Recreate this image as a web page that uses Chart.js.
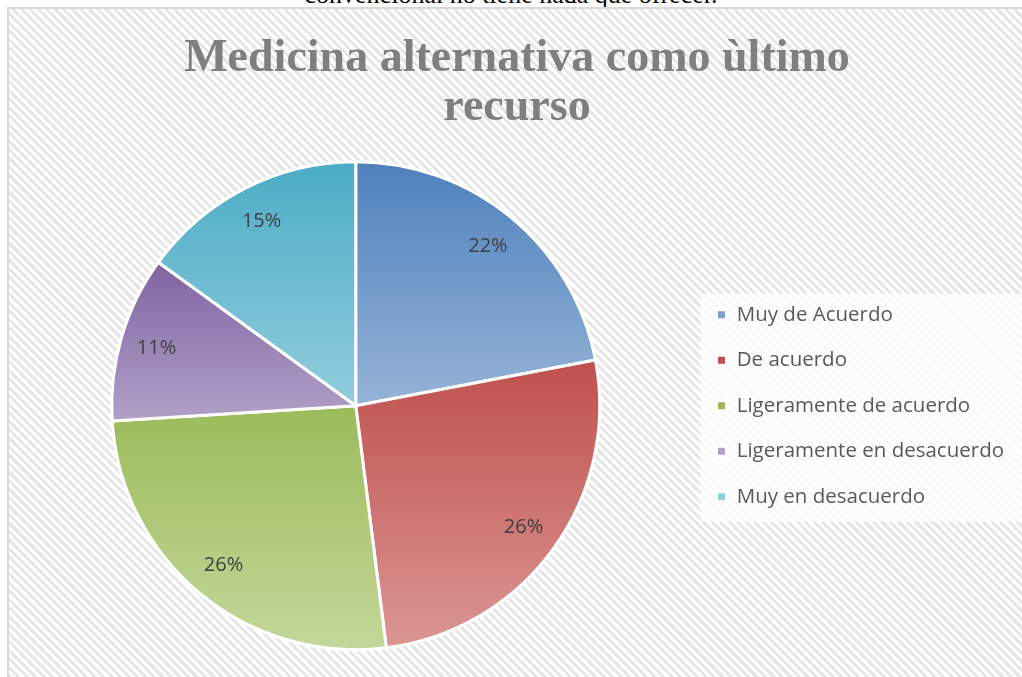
<!DOCTYPE html>
<html>
<head>
<meta charset="utf-8">
<script src="https://cdn.jsdelivr.net/npm/chart.js@4.4.1/dist/chart.umd.min.js"></script>
<style>
  html, body { margin: 0; padding: 0; background: #fff; overflow: hidden; }
  body { width: 1022px; height: 677px; position: relative; }
  #prev {
    position: absolute; left: 0; width: 1022px; top: -18px;
    text-align: center; font: 26px/26px "Liberation Serif", serif; color: #000;
    white-space: nowrap;
  }
  #frame {
    position: absolute; left: 7px; top: 7px; width: 1030px; height: 690px;
    border: 2px solid #d9d9d9;
    background: repeating-linear-gradient(45deg, #ffffff 0px, #ffffff 3px, #e6e6e6 3px, #e6e6e6 6px);
  }
  #wrap { position: absolute; left: 0; top: 0; width: 1022px; height: 677px; }
</style>
</head>
<body>
<div id="prev">convencional no tiene nada que ofrecer.</div>
<div id="frame"></div>
<div id="wrap"><canvas id="pieChart"></canvas></div>
<script>
const titulo = ['Medicina alternativa como ùltimo', 'recurso']
const categorias = ['Muy de Acuerdo', 'De acuerdo', 'Ligeramente de acuerdo', 'Ligeramente en desacuerdo', 'Muy en desacuerdo']
const porcentajes = [22, 26, 26, 11, 15]
const coloresArriba = ['#4f81bd', '#c0504d', '#9bbb59', '#8064a2', '#4bacc6']
const coloresAbajo = ['#95b3d7', '#da9694', '#c4d79b', '#b1a0c7', '#92cddc']

const RADIO = 244

// rango vertical de cada porcion para el degradado
const rangoY = (i, cy) => {
    const total = porcentajes.reduce((a, b) => a + b, 0)
    let acum = 0
    for (let k = 0; k < i; k++) acum += porcentajes[k]
    const a0 = -Math.PI / 2 + acum / total * 2 * Math.PI
    const a1 = a0 + porcentajes[i] / total * 2 * Math.PI
    const ys = [cy, cy + RADIO * Math.sin(a0), cy + RADIO * Math.sin(a1)]
    for (let m = -4; m <= 4; m++) {
        const a = Math.PI / 2 + m * Math.PI
        if (a > a0 && a < a1) ys.push(cy + RADIO * Math.sin(a))
    }
    return [Math.min(...ys), Math.max(...ys)]
}

const fondoDegradado = ctx => {
    const chart = ctx.chart
    const area = chart.chartArea
    if (!area) return coloresArriba[ctx.dataIndex]
    const cy = (area.top + area.bottom) / 2
    const [y0, y1] = rangoY(ctx.dataIndex, cy)
    const g = chart.ctx.createLinearGradient(0, y0, 0, y1)
    g.addColorStop(0, coloresArriba[ctx.dataIndex])
    g.addColorStop(1, coloresAbajo[ctx.dataIndex])
    return g
}

const fondoLeyenda = {
    id: 'fondoLeyenda',
    beforeDraw(chart) {
        const lg = chart.legend
        if (!lg) return
        const alto = 5 * 45
        const inicio = lg.top + 25
        const fin = lg.bottom - alto
        const primera = (inicio + fin) / 2
        const c = chart.ctx
        c.save()
        c.fillStyle = 'rgba(255,255,255,0.75)'
        c.fillRect(lg.left + 9, primera - 12, chart.width - lg.left - 9, 228)
        c.restore()
    }
}

const etiquetas = {
    id: 'etiquetas',
    afterDatasetsDraw(chart) {
        const meta = chart.getDatasetMeta(0)
        const c = chart.ctx
        c.save()
        c.font = '20px "Open Sans", sans-serif'
        c.fillStyle = '#404040'
        c.textAlign = 'center'
        c.textBaseline = 'middle'
        meta.data.forEach((arc, i) => {
            const mid = (arc.startAngle + arc.endAngle) / 2
            const r = arc.outerRadius * 0.85
            c.fillText(porcentajes[i] + '%', arc.x + Math.cos(mid) * r, arc.y + Math.sin(mid) * r)
        })
        c.restore()
    }
}

const data = {
    labels: categorias,
    datasets: [{
        data: porcentajes,
        backgroundColor: fondoDegradado,
        borderColor: '#ffffff',
        borderWidth: 3,
        radius: RADIO
    }]
}

const options = {
    responsive: true,
    maintainAspectRatio: false,
    animation: false,
    layout: { padding: { left: 20, right: 8, top: 0, bottom: 0 } },
    plugins: {
        title: {
            display: true,
            text: titulo,
            color: '#7f7f7f',
            font: { family: '"Liberation Serif", serif', size: 46, weight: 'bold', lineHeight: 1.07 },
            padding: { top: 34, bottom: 2 }
        },
        legend: {
            position: 'right',
            fullSize: false,
            labels: {
                boxWidth: 10,
                boxHeight: 10,
                padding: 25,
                color: '#595959',
                font: { family: '"Open Sans", sans-serif', size: 20.5 }
            }
        },
        tooltip: { enabled: false }
    }
}

new Chart('pieChart', { type: 'pie', data, options, plugins: [fondoLeyenda, etiquetas] })
</script>
</body>
</html>
